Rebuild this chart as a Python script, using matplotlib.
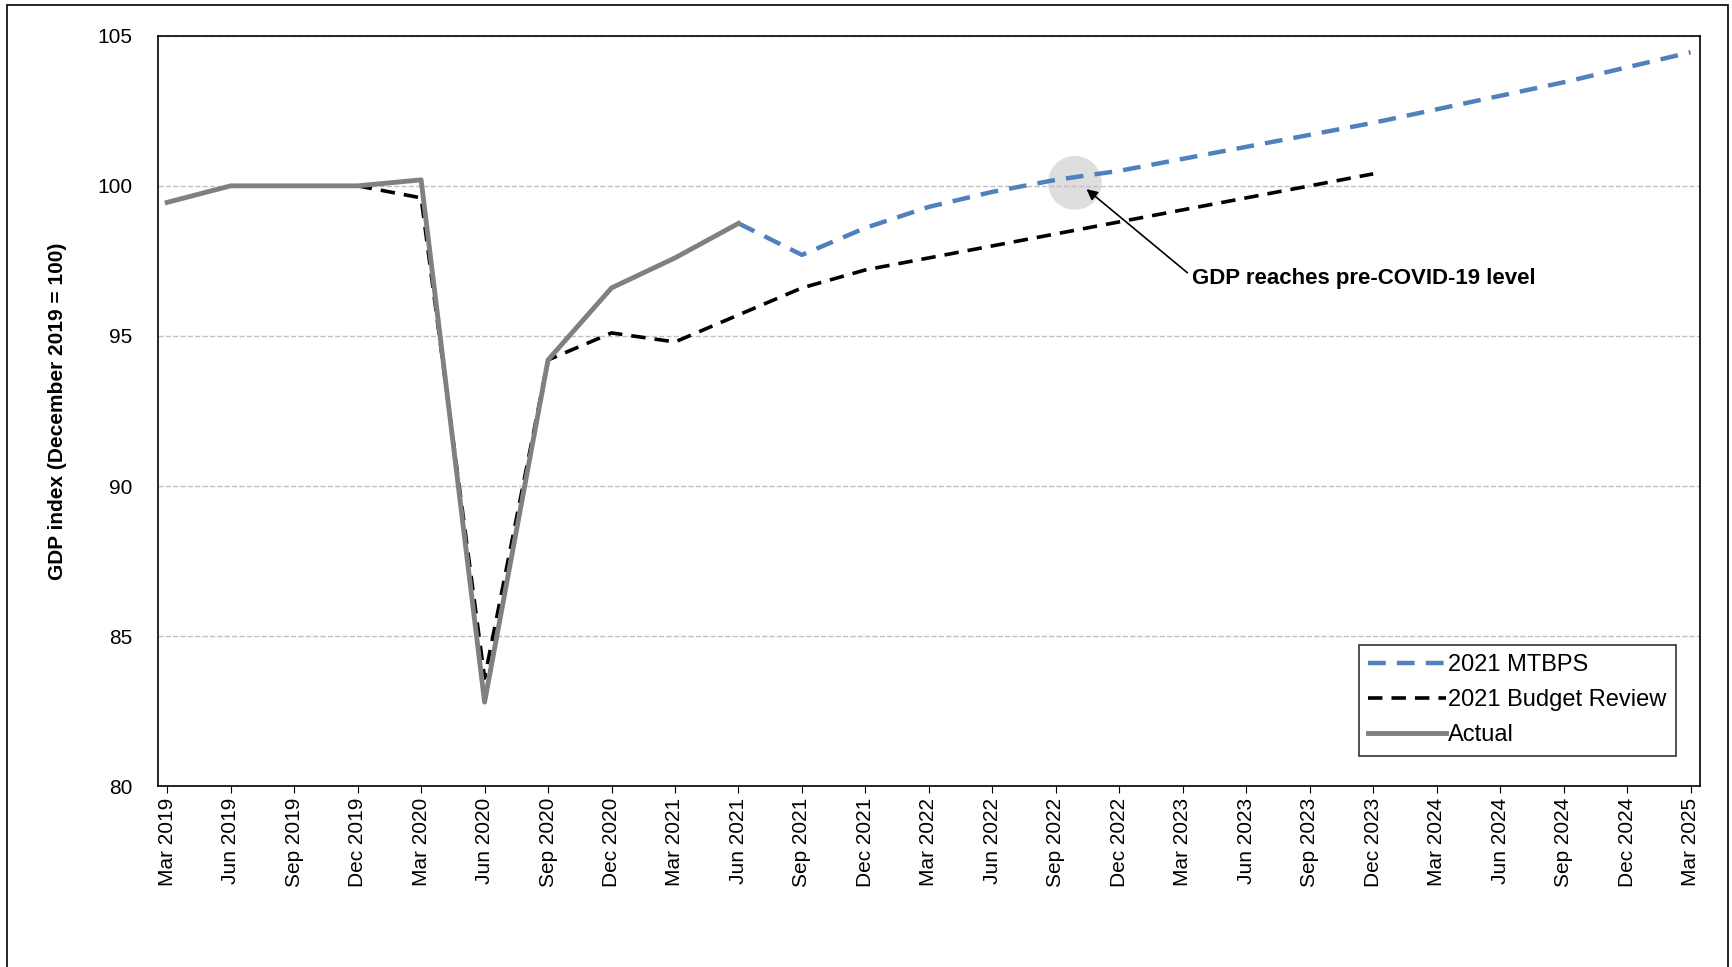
import matplotlib.pyplot as plt
from matplotlib.patches import Rectangle

quarters = ["Mar 2019", "Jun 2019", "Sep 2019", "Dec 2019", "Mar 2020", "Jun 2020", "Sep 2020",
            "Dec 2020", "Mar 2021", "Jun 2021", "Sep 2021", "Dec 2021", "Mar 2022", "Jun 2022",
            "Sep 2022", "Dec 2022", "Mar 2023", "Jun 2023", "Sep 2023", "Dec 2023", "Mar 2024",
            "Jun 2024", "Sep 2024", "Dec 2024", "Mar 2025"]
actual = [99.45, 100.0, 100.0, 100.0, 100.2, 82.8, 94.2, 96.6, 97.6, 98.75]
mtbps = [98.75, 97.7, 98.6, 99.3, 99.8, 100.2, 100.5, 100.9, 101.3, 101.7, 102.1,
         102.55, 103.0, 103.45, 103.95, 104.45]
budget = [100.0, 99.6, 83.6, 94.2, 95.1, 94.8, 95.7, 96.6, 97.2, 97.6, 98.0, 98.4,
          98.8, 99.2, 99.6, 100.0, 100.4]

plt.rcParams['font.family'] = ['Liberation Sans', 'DejaVu Sans']
fig = plt.figure(figsize=(17.33, 9.67), dpi=100)
ax = fig.add_axes([0.091, 0.187, 0.89, 0.776])
fig.patches.append(Rectangle((0.004, -0.01), 0.993, 1.005, transform=fig.transFigure,
                             fill=False, edgecolor='black', linewidth=1.2))

x = list(range(len(quarters)))
ax.plot(x[9:9 + len(mtbps)], mtbps, color='#4f81bd', linestyle=(0, (4, 2.5)), linewidth=3.2,
        label='2021 MTBPS')
ax.plot(x[3:3 + len(budget)], budget, color='black', linestyle=(0, (4, 2.5)), linewidth=2.6,
        label='2021 Budget Review')
ax.plot(x[:len(actual)], actual, color='#808080', linewidth=3.5, label='Actual')

ax.scatter([14.3], [100.1], s=1500, color='#d9d9d9', alpha=0.85, zorder=1, edgecolors='none')
ax.annotate('GDP reaches pre-COVID-19 level', xy=(14.45, 99.95), xytext=(16.15, 96.9),
            fontsize=16, fontweight='bold', va='center',
            arrowprops=dict(arrowstyle='-|>', color='black', lw=1.2, relpos=(0, 0.6)))

ax.set_xlim(-0.15, 24.15)
ax.set_ylim(80, 105)
ax.set_yticks([80, 85, 90, 95, 100, 105])
ax.set_xticks(x)
ax.set_xticklabels(quarters, rotation=90, fontsize=15)
ax.tick_params(axis='y', labelsize=15, length=0, pad=18)
ax.tick_params(axis='x', length=5)
ax.yaxis.grid(True, color='#c0c0c0', linestyle='--', linewidth=1)
ax.set_ylabel('GDP index (December 2019 = 100)', fontsize=15, fontweight='bold', labelpad=22)
for s in ax.spines.values():
    s.set_linewidth(1.2)

leg = ax.legend(loc='lower right', fontsize=17, frameon=True, fancybox=False,
                edgecolor='black', handlelength=3.3, handletextpad=0.1, borderpad=0.4,
                labelspacing=0.55, bbox_to_anchor=(0.992, 0.025))
leg.get_frame().set_linewidth(1.2)

fig.savefig('out.png')
